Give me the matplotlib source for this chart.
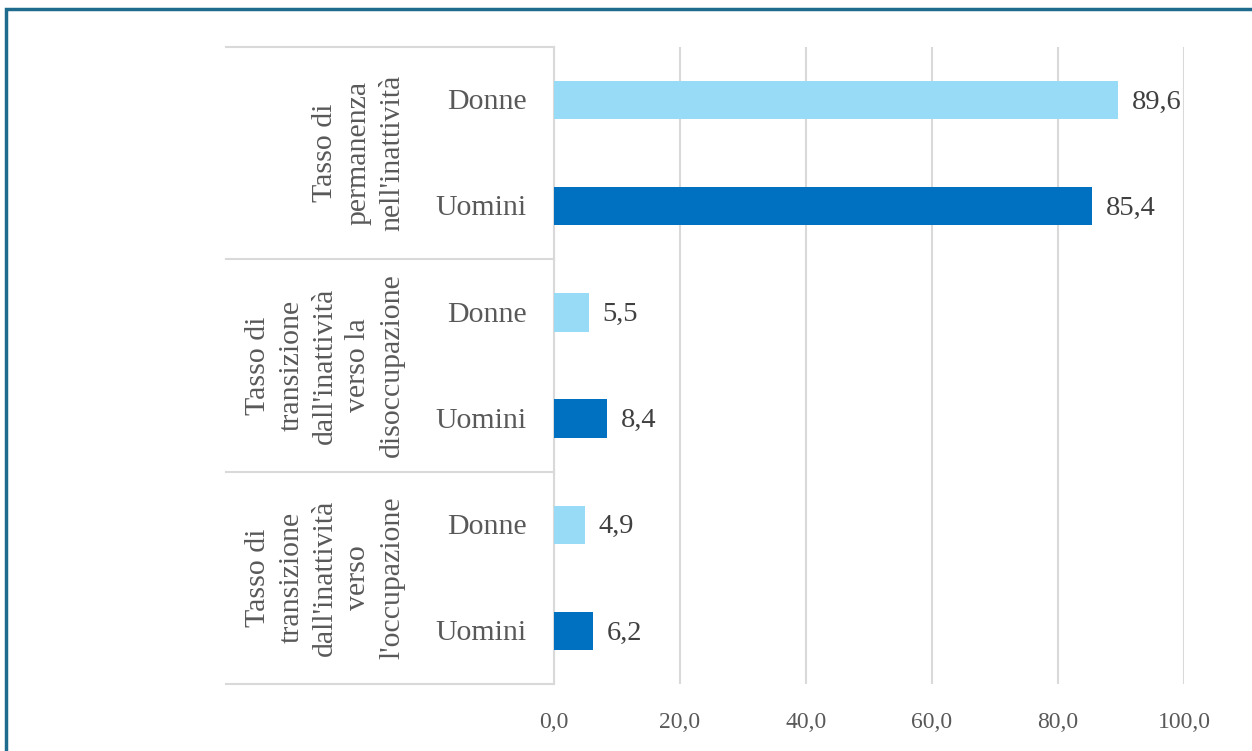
import matplotlib
matplotlib.use("Agg")
import matplotlib.pyplot as plt
from matplotlib.patches import Rectangle
from matplotlib.lines import Line2D
import matplotlib.transforms as mtransforms

plt.rcParams['font.family'] = ['Liberation Serif', 'DejaVu Serif']

# data
groups = ["Tasso di\npermanenza\nnell'inattività",
          "Tasso di\ntransizione\ndall'inattività\nverso la\ndisoccupazione",
          "Tasso di\ntransizione\ndall'inattività\nverso\nl'occupazione"]
sub_labels = ["Donne", "Uomini", "Donne", "Uomini", "Donne", "Uomini"]
values = [89.6, 85.4, 5.5, 8.4, 4.9, 6.2]
bar_colors = ["#97DBF7", "#0070C0"] * 3
x_ticks = [0, 20, 40, 60, 80, 100]

W, H = 1252, 751
fig = plt.figure(figsize=(W / 100, H / 100), dpi=100)

# outer frame (only top and left edges fall inside the image)
fig.patches.append(Rectangle((6 / W, -0.1), 1.2, 1 - 9 / H + 0.1,
                             transform=fig.transFigure, fill=False,
                             edgecolor="#1F6B8E", linewidth=2.5))

ax = fig.add_axes([554 / W, 1 - 684 / H, 630 / W, 637 / H])
ypos = list(range(len(values)))
ax.barh(ypos, values, height=0.36, color=bar_colors, zorder=3)

for y, v in zip(ypos, values):
    ax.text(v + 2.2, y + 0.02, f"{v:.1f}".replace(".", ","), va="center", ha="left",
            fontsize=20.5, color="#404040")

ax.set_xlim(0, 100)
ax.set_ylim(len(values) - 0.5, -0.5)
ax.set_xticks(x_ticks)
ax.set_xticklabels([f"{t:.1f}".replace(".", ",") for t in x_ticks],
                   fontsize=17, color="#595959")
ax.tick_params(axis="x", length=0, pad=20)
ax.set_yticks([])
ax.grid(axis="x", color="#D9D9D9", linewidth=1.5, zorder=0)
for s in ["top", "right", "bottom"]:
    ax.spines[s].set_visible(False)
ax.spines["left"].set_color("#D9D9D9")
ax.spines["left"].set_linewidth(1.5)

# category labels on the left
trans = mtransforms.blended_transform_factory(ax.transAxes, ax.transData)
x_left = (226 - 554) / 630
for y in [-0.5, 1.5, 3.5, 5.5]:
    ax.add_line(Line2D([x_left, 0], [y, y], transform=trans, color="#D9D9D9",
                       linewidth=1.5, clip_on=False))

for y, lab in zip(ypos, sub_labels):
    ax.text((527 - 554) / 630, y + 0.02, lab, transform=trans, ha="right", va="center",
            fontsize=21.5, color="#595959")

for i, g in enumerate(groups):
    ax.text((405 - 554) / 630, 2 * i + 0.5, g, transform=trans, rotation=90,
            ha="right", va="center", multialignment="center",
            fontsize=21.5, color="#595959", linespacing=1.38)

fig.savefig("out.png", dpi=100)
